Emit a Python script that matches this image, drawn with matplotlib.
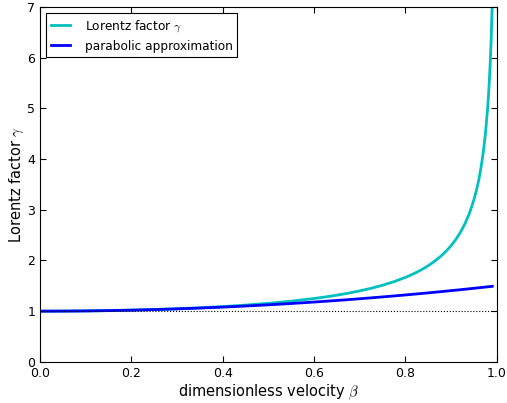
import matplotlib
matplotlib.use("Agg")
import matplotlib.pyplot as plt

# velocity samples and values
beta = [0.0, 0.05, 0.1, 0.15, 0.2, 0.25, 0.3, 0.35, 0.4, 0.45, 0.5, 0.55,
        0.6, 0.625, 0.65, 0.675, 0.7, 0.725, 0.75, 0.775, 0.8, 0.81, 0.82,
        0.83, 0.84, 0.85, 0.86, 0.87, 0.88, 0.89, 0.9, 0.91, 0.92, 0.93,
        0.94, 0.95, 0.955, 0.96, 0.965, 0.97, 0.975, 0.98, 0.9825, 0.985,
        0.9875, 0.99]
gamma = [1.0, 1.00125, 1.00504, 1.01144, 1.02062, 1.0328, 1.04828, 1.06752,
         1.09109, 1.11979, 1.1547, 1.19737, 1.25, 1.28103, 1.3159, 1.35535,
         1.40028, 1.45191, 1.51186, 1.58238, 1.66667, 1.70523, 1.74714,
         1.79288, 1.84302, 1.89832, 1.95965, 2.02818, 2.10538, 2.19317,
         2.29416, 2.41192, 2.55155, 2.72065, 2.93105, 3.20256, 3.37149,
         3.57143, 3.81316, 4.11345, 4.50035, 5.02519, 5.36878, 5.79534,
         6.34441, 7.08881]
parabolic = [1.0, 1.00125, 1.005, 1.01125, 1.02, 1.03125, 1.045, 1.06125,
             1.08, 1.10125, 1.125, 1.15125, 1.18, 1.19531, 1.21125, 1.22781,
             1.245, 1.26281, 1.28125, 1.30031, 1.32, 1.32805, 1.3362,
             1.34445, 1.3528, 1.36125, 1.3698, 1.37845, 1.3872, 1.39605,
             1.405, 1.41405, 1.4232, 1.43245, 1.4418, 1.45125, 1.45601,
             1.4608, 1.46561, 1.47045, 1.47531, 1.4802, 1.48265, 1.48511,
             1.48758, 1.49005]

plt.rcParams["xtick.direction"] = "in"
plt.rcParams["ytick.direction"] = "in"
plt.rcParams["xtick.top"] = True
plt.rcParams["ytick.right"] = True
plt.rcParams["mathtext.fontset"] = "cm"

fig = plt.figure(figsize=(5.07, 4.03), dpi=100)
ax = fig.add_axes([0.079, 0.102, 0.901, 0.881])

ax.plot(beta, gamma, color="c", linewidth=2, label=r"Lorentz factor $\gamma$")
ax.plot(beta, parabolic, color="b", linewidth=2, label="parabolic approximation")
ax.axhline(1, color="k", linestyle=":", linewidth=0.8)

ax.set_xlim(0, 1)
ax.set_ylim(0, 7)
ax.set_xticks([0.0, 0.2, 0.4, 0.6, 0.8, 1.0])
ax.tick_params(labelsize=9, length=4, width=0.8)
ax.set_xlabel(r"dimensionless velocity $\beta$", fontsize=10.5, labelpad=2)
ax.set_ylabel(r"Lorentz factor $\gamma$", fontsize=10.5, labelpad=1)

leg = ax.legend(loc="upper left", fontsize=8.7, fancybox=False, framealpha=1,
                edgecolor="k", handlelength=1.6, handletextpad=1.2)
leg.get_frame().set_linewidth(0.8)

fig.savefig("out.png", dpi=100)
